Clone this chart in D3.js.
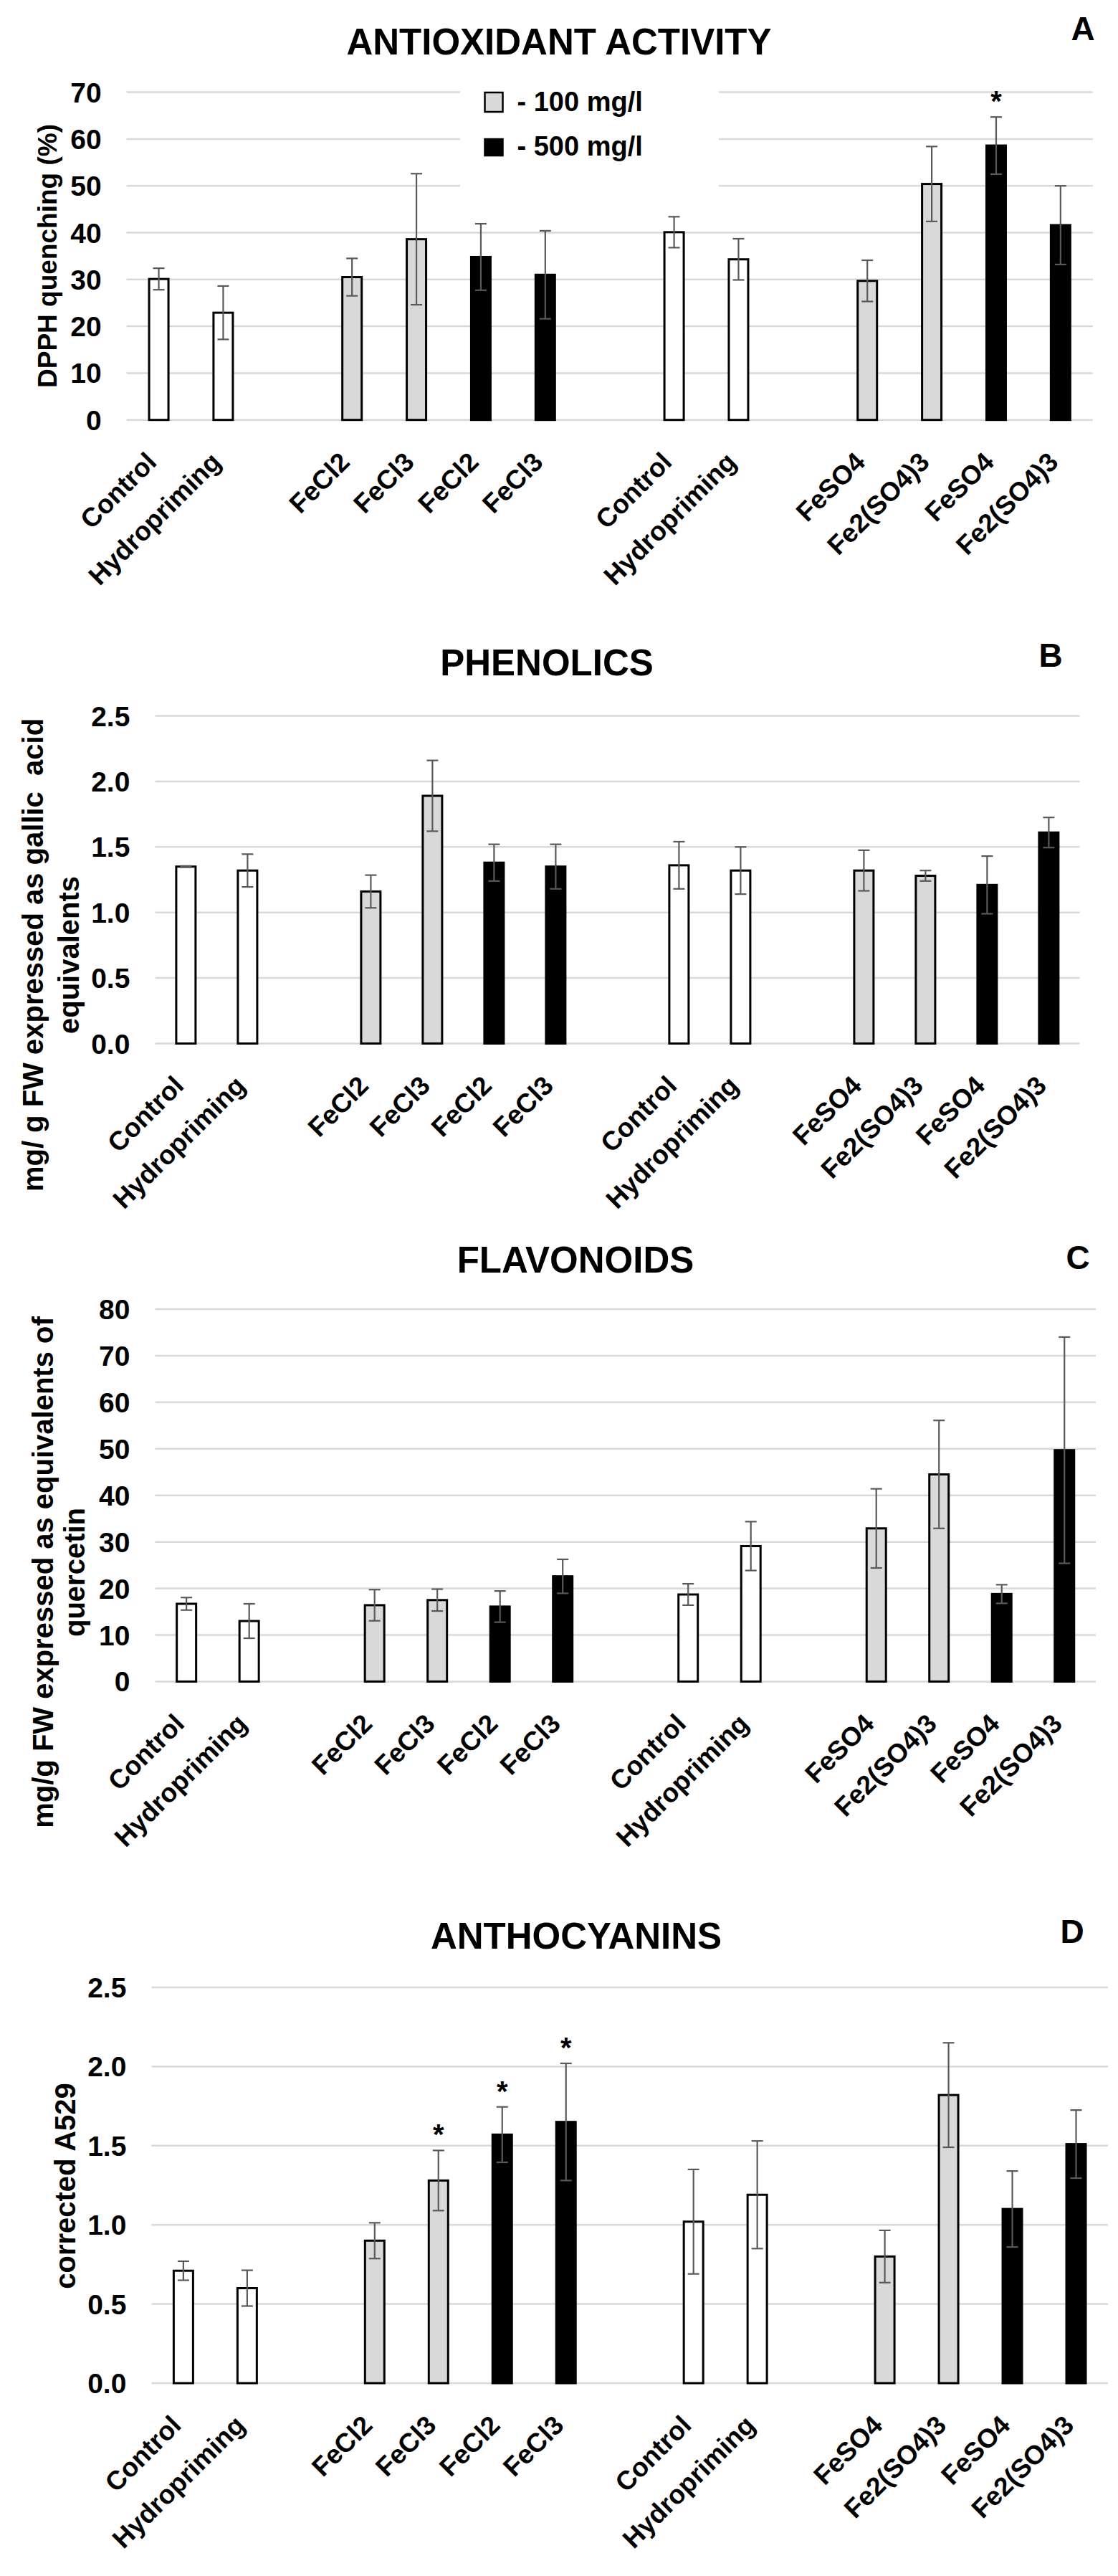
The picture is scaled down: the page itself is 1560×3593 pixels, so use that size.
<!DOCTYPE html>
<html>
<head>
<meta charset="utf-8">
<script src="https://cdn.jsdelivr.net/npm/d3@7/dist/d3.min.js"></script>
<style>
  html, body { margin: 0; padding: 0; background: #fff; }
  svg { display: block; }
  text { font-family: "Liberation Sans", Arial, sans-serif; font-weight: bold; fill: #000; }
</style>
</head>
<body>
<svg id="chart" width="1560" height="3593"></svg>
<script>
// ---------- DATA ----------
const categories = ["Control", "Hydropriming", "", "FeCl2", "FeCl3", "FeCl2", "FeCl3", "",
                    "Control", "Hydropriming", "", "FeSO4", "Fe2(SO4)3", "FeSO4", "Fe2(SO4)3"];
// 0 = no iron (white), 1 = 100 mg/l (grey), 2 = 500 mg/l (black)
const doseGroup = [0, 0, null, 1, 1, 2, 2, null, 0, 0, null, 1, 1, 2, 2];

const legendLabels = ["- 100 mg/l", "- 500 mg/l"];

const dpphMean = [30.1, 22.9, null, 30.5, 38.6, 34.8, 31.0, null, 40.1, 34.3, null, 29.7, 50.4, 58.6, 41.6];
const dpphErr  = [2.3, 5.7, null, 4.0, 14.0, 7.1, 9.4, null, 3.3, 4.4, null, 4.4, 8.0, 6.1, 8.4];
const dpphStars = [13];
const dpphTicks = [0, 10, 20, 30, 40, 50, 60, 70];

const phenMean = [1.35, 1.32, null, 1.16, 1.89, 1.38, 1.35, null, 1.36, 1.32, null, 1.32, 1.28, 1.21, 1.61];
const phenErr  = [0.005, 0.125, null, 0.125, 0.27, 0.14, 0.17, null, 0.18, 0.18, null, 0.155, 0.04, 0.22, 0.115];
const phenStars = [];
const phenTicks = [0, 0.5, 1.0, 1.5, 2.0, 2.5];

const flavMean = [16.7, 13.0, null, 16.4, 17.5, 16.1, 22.6, null, 18.7, 29.1, null, 32.9, 44.5, 18.8, 49.7];
const flavErr  = [1.35, 3.7, null, 3.35, 2.35, 3.35, 3.65, null, 2.3, 5.25, null, 8.5, 11.6, 2.0, 24.3];
const flavStars = [];
const flavTicks = [0, 10, 20, 30, 40, 50, 60, 70, 80];

const anthMean = [0.71, 0.60, null, 0.90, 1.28, 1.57, 1.65, null, 1.02, 1.19, null, 0.80, 1.82, 1.10, 1.51];
const anthErr  = [0.06, 0.113, null, 0.113, 0.19, 0.175, 0.37, null, 0.33, 0.34, null, 0.165, 0.33, 0.24, 0.215];
const anthStars = [4, 5, 6];
const anthTicks = [0, 0.5, 1.0, 1.5, 2.0, 2.5];

// ---------- LAYOUT ----------
const fills = ["#ffffff", "#d9d9d9", "#000000"];
const svg = d3.select("#chart");

const panels = [
  { mean: dpphMean, err: dpphErr, stars: dpphStars, ticks: dpphTicks, fmt: d3.format("d"),
    left: 176.6, right: 1524.8, y0: 585.7, yTop: 128.6,
    title: "ANTIOXIDANT ACTIVITY", titleX: 780, titleY: 76,
    letter: "A", letterX: 1511, letterY: 56,
    yTitle: ["DPPH quenching (%)"], yTitleX: [79], yTitleY: 357, yTitleSize: 37, legend: true },
  { mean: phenMean, err: phenErr, stars: phenStars, ticks: phenTicks, fmt: d3.format(".1f"),
    left: 216.4, right: 1506.4, y0: 1455.5, yTop: 998.5,
    title: "PHENOLICS", titleX: 763, titleY: 942,
    letter: "B", letterX: 1466, letterY: 930,
    yTitle: ["mg/ g FW expressed as gallic  acid", "equivalents"], yTitleX: [60, 110], yTitleY: 1332, yTitleSize: 40 },
  { mean: flavMean, err: flavErr, stars: flavStars, ticks: flavTicks, fmt: d3.format("d"),
    left: 216.4, right: 1529, y0: 2345.4, yTop: 1826,
    title: "FLAVONOIDS", titleX: 803, titleY: 1775,
    letter: "C", letterX: 1504, letterY: 1770,
    yTitle: ["mg/g FW expressed as equivalents of", "quercetin"], yTitleX: [74, 118], yTitleY: 2193, yTitleSize: 40 },
  { mean: anthMean, err: anthErr, stars: anthStars, ticks: anthTicks, fmt: d3.format(".1f"),
    left: 211.4, right: 1546, y0: 3324, yTop: 2772,
    title: "ANTHOCYANINS", titleX: 804, titleY: 2718,
    letter: "D", letterX: 1496, letterY: 2710,
    yTitle: ["corrected A529"], yTitleX: [104.5], yTitleY: 3049, yTitleSize: 40 }
];

panels.forEach(p => {
  const g = svg.append("g");
  const maxTick = p.ticks[p.ticks.length - 1];
  const x = d3.scaleBand().domain(d3.range(categories.length)).range([p.left, p.right]).padding(0);
  const y = d3.scaleLinear().domain([0, maxTick]).range([p.y0, p.yTop]);
  const cx = i => x(i) + x.bandwidth() / 2;
  const barW = 27;

  // gridlines
  g.append("g").selectAll("line").data(p.ticks).join("line")
    .attr("x1", p.left).attr("x2", p.right)
    .attr("y1", d => y(d)).attr("y2", d => y(d))
    .attr("stroke", "#d9d9d9").attr("stroke-width", 2.5);

  // y tick labels
  g.append("g").selectAll("text").data(p.ticks).join("text")
    .attr("x", p.left - 35).attr("y", d => y(d)).attr("dy", "0.36em")
    .attr("text-anchor", "end").style("font-size", "39px")
    .text(d => p.fmt(d));

  // legend
  if (p.legend) {
    const lg = g.append("g");
    lg.append("rect").attr("x", 642).attr("y", 108).attr("width", 361).attr("height", 165).attr("fill", "#fff");
    const rows = [1, 2];
    lg.selectAll("rect.key").data(rows).join("rect").attr("class", "key")
      .attr("x", 676.5).attr("y", (d, i) => [129, 194][i])
      .attr("width", 25).attr("height", (d, i) => [27, 23][i])
      .attr("fill", d => fills[d]).attr("stroke", "#000").attr("stroke-width", 2.5);
    lg.selectAll("text").data(legendLabels).join("text")
      .attr("x", 721.5).attr("y", (d, i) => [155, 216.7][i])
      .style("font-size", "38px").text(d => d);
  }

  const idx = d3.range(categories.length).filter(i => p.mean[i] != null);

  // bars
  g.append("g").selectAll("rect").data(idx).join("rect")
    .attr("x", i => cx(i) - barW / 2).attr("width", barW)
    .attr("y", i => y(p.mean[i])).attr("height", i => p.y0 - y(p.mean[i]))
    .attr("fill", i => fills[doseGroup[i]])
    .attr("stroke", "#000").attr("stroke-width", 3);

  // error bars
  const eg = g.append("g").attr("stroke", "#595959").attr("stroke-width", 2.2);
  idx.forEach(i => {
    const hi = y(p.mean[i] + p.err[i]), lo = y(p.mean[i] - p.err[i]);
    eg.append("line").attr("x1", cx(i)).attr("x2", cx(i)).attr("y1", hi).attr("y2", lo);
    eg.append("line").attr("x1", cx(i) - 8).attr("x2", cx(i) + 8).attr("y1", hi).attr("y2", hi);
    eg.append("line").attr("x1", cx(i) - 8).attr("x2", cx(i) + 8).attr("y1", lo).attr("y2", lo);
  });

  // significance stars
  g.append("g").selectAll("text").data(p.stars).join("text")
    .attr("x", i => cx(i)).attr("y", i => y(p.mean[i] + p.err[i]) - 8)
    .attr("text-anchor", "middle").style("font-size", "40px").text("*");

  // x labels
  g.append("g").selectAll("text").data(idx).join("text")
    .attr("transform", i => `translate(${cx(i) - 1},${p.y0 + 61}) rotate(-45)`)
    .attr("text-anchor", "end").style("font-size", "37px")
    .text(i => categories[i]);

  // title & letter
  g.append("text").attr("x", p.titleX).attr("y", p.titleY).attr("text-anchor", "middle")
    .style("font-size", "51px").text(p.title);
  g.append("text").attr("x", p.letterX).attr("y", p.letterY).attr("text-anchor", "middle")
    .style("font-size", "46px").text(p.letter);

  // y-axis title
  p.yTitle.forEach((t, k) => {
    g.append("text")
      .attr("transform", `translate(${p.yTitleX[k]},${p.yTitleY}) rotate(-90)`)
      .attr("text-anchor", "middle").style("font-size", p.yTitleSize + "px")
      .style("white-space", "pre")
      .text(t);
  });
});
</script>
</body>
</html>
